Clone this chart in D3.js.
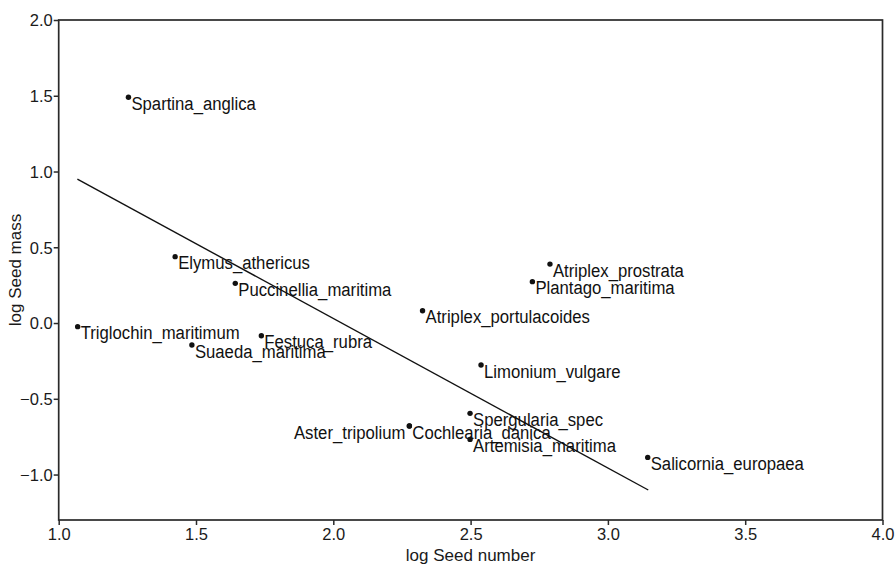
<!DOCTYPE html>
<html>
<head>
<meta charset="utf-8">
<script src="https://cdn.jsdelivr.net/npm/d3@7"></script>
<style>
  html, body { margin: 0; padding: 0; background: #fff; }
  svg { display: block; font-family: "Liberation Sans", Arial, sans-serif; }
</style>
</head>
<body>
<svg id="chart" width="895" height="566"></svg>
<script>
// Species and their log-transformed seed number / seed mass
const species = [
  "Spartina_anglica", "Elymus_athericus", "Puccinellia_maritima",
  "Triglochin_maritimum", "Suaeda_maritima", "Festuca_rubra",
  "Atriplex_prostrata", "Plantago_maritima", "Atriplex_portulacoides",
  "Limonium_vulgare", "Spergularia_spec", "Aster_tripolium",
  "Cochlearia_danica", "Artemisia_maritima", "Salicornia_europaea"
];
const logSeedNumber = [
  1.254, 1.424, 1.643,
  1.069, 1.485, 1.738,
  2.789, 2.725, 2.325,
  2.538, 2.498, 2.277,
  2.277, 2.498, 3.145
];
const logSeedMass = [
  1.490, 0.438, 0.262,
  -0.024, -0.145, -0.084,
  0.389, 0.273, 0.081,
  -0.277, -0.596, -0.680,
  -0.680, -0.768, -0.887
];
// label placed on the left of the point (true) or on the right (false)
const labelLeft = [
  false, false, false,
  false, false, false,
  false, false, false,
  false, false, true,
  false, false, false
];

// Fitted regression line endpoints
const fitX = [1.068, 3.147];
const fitY = [0.950, -1.102];

const xTicks = [1.0, 1.5, 2.0, 2.5, 3.0, 3.5, 4.0];
const yTicks = [-1.0, -0.5, 0.0, 0.5, 1.0, 1.5, 2.0];

(function () {
  const svg = d3.select("#chart");
  const mLeft = 58.7, mRight = 882.5, mTop = 20, mBottom = 520;

  const x = d3.scaleLinear().domain([1, 4]).range([mLeft, mRight]);
  const y = d3.scaleLinear().domain([-1.3, 2.0]).range([mBottom, mTop]);

  const fmt = v => d3.format(".1f")(v).replace("-", "\u2212");
  const axisColor = "#2a2a2a";

  // frame
  svg.append("rect")
    .attr("x", mLeft).attr("y", mTop)
    .attr("width", mRight - mLeft).attr("height", mBottom - mTop)
    .attr("fill", "none").attr("stroke", axisColor).attr("stroke-width", 1.7);

  // x axis
  const gx = svg.append("g")
    .attr("transform", `translate(0,${mBottom})`)
    .call(d3.axisBottom(x).tickValues(xTicks).tickFormat(fmt).tickSize(5).tickPadding(3));
  // y axis
  const gy = svg.append("g")
    .attr("transform", `translate(${mLeft},0)`)
    .call(d3.axisLeft(y).tickValues(yTicks).tickFormat(fmt).tickSize(5).tickPadding(1));

  [gx, gy].forEach(g => {
    g.select(".domain").remove();
    g.selectAll(".tick line").attr("stroke", axisColor).attr("stroke-width", 1.5);
    g.selectAll(".tick text")
      .attr("fill", "#1a1a1a")
      .style("font-size", "16.5px")
      .style("font-family", "'Liberation Sans', Arial, sans-serif");
  });
  gy.selectAll(".tick text").attr("dy", "0.36em");

  // axis titles
  svg.append("text")
    .attr("x", (mLeft + mRight) / 2).attr("y", 561)
    .attr("text-anchor", "middle")
    .attr("fill", "#1a1a1a")
    .style("font-size", "17px")
    .text("log Seed number");

  svg.append("text")
    .attr("transform", `translate(21,${(mTop + mBottom) / 2}) rotate(-90)`)
    .attr("text-anchor", "middle")
    .attr("fill", "#1a1a1a")
    .style("font-size", "17px")
    .text("log Seed mass");

  // regression line
  svg.append("line")
    .attr("x1", x(fitX[0])).attr("y1", y(fitY[0]))
    .attr("x2", x(fitX[1])).attr("y2", y(fitY[1]))
    .attr("stroke", "#111").attr("stroke-width", 1.4);

  // points
  const pts = species.map((s, i) => ({
    name: s, nx: logSeedNumber[i], my: logSeedMass[i], leftSide: labelLeft[i]
  }));

  svg.append("g").selectAll("circle")
    .data(pts).join("circle")
    .attr("cx", d => x(d.nx)).attr("cy", d => y(d.my))
    .attr("r", 2.7).attr("fill", "#111");

  // point labels (slightly condensed type)
  svg.append("g").selectAll("text")
    .data(pts).join("text")
    .attr("transform", d => d.leftSide
      ? `translate(${x(d.nx) - 4},${y(d.my) + 12.5}) scale(0.88,1)`
      : `translate(${x(d.nx) + 3},${y(d.my) + 12.5}) scale(0.88,1)`)
    .attr("text-anchor", d => d.leftSide ? "end" : "start")
    .attr("fill", "#111")
    .style("font-size", "19px")
    .text(d => d.name);
})();
</script>
</body>
</html>
